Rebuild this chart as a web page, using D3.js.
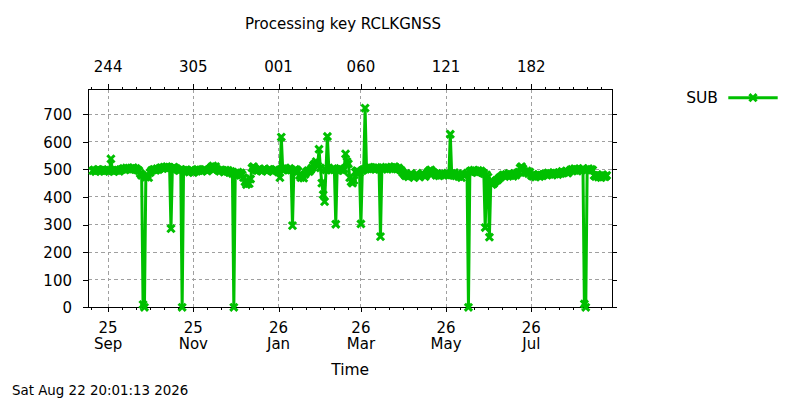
<!DOCTYPE html>
<html><head><meta charset="utf-8">
<script src="https://cdn.jsdelivr.net/npm/d3@7"></script>
<style>
body{margin:0;background:#fff}
svg{display:block}
text{font-family:"DejaVu Sans",sans-serif;fill:#000}
</style>
</head><body>
<svg id="chart" width="800" height="400"></svg>
<script>
// ---------- data ----------
const chartTitle = "Processing key RCLKGNSS";
const seriesName = "SUB";
const xAxisLabel = "Time";
const timestampText = "Sat Aug 22 20:01:13 2026";
const firstDay = "2025-08-21";            // first daily sample
const subValues = [
  495,498,492,497,500,494,496,499,493,497,495,          // Aug 21-31
  498,494,538,496,492,499,495,497,493,498,              // Sep 1-10
  500,503,498,505,501,504,499,502,506,500,503,498,495,  // Sep 11-23
  485,478,10,0,472,480,470,488,
  495,498,500,496,502,499,504,
  506,503,508,505,510,504,507,285,503,508,505,502,
  498,495,500,0,497,493,499,495,490,496,
  492,488,494,497,500,495,498,493,496,500,497,494,499,502,
  508,512,506,510,
  500,496,493,498,495,490,497,493,496,488,492,485,
  0,
  478,485,490,482,487,480,
  470,455,445,450,448,465,
  505,510,503,498,495,500,496,493,499,502,497,494,500,498,495,492,497,500,496,
  490,470,
  617,
  502,498,505,500,497,503,
  497,296,
  495,500,498,493,
  478,470,475,468,482,
  490,495,492,498,505,
  515,520,528,512,
  573,
  505,
  450,408,383,
  498,
  619,
  505,500,497,502,
  498,301,
  500,496,503,499,495,501,
  556,
  528,520,
  470,455,450,460,
  490,495,492,488,
  302,
  495,500,
  722,
  505,502,508,500,504,506,501,507,503,500,
  256,
  502,506,503,508,500,505,502,507,504,510,506,501,505,499,495,488,
  482,476,480,473,478,485,475,470,479,483,477,472,480,486,478,474,481,490,495,498,492,488,484,478,482,476,480,485,479,483,
  480,486,478,
  627,
  485,480,488,476,482,474,479,470,484,478,481,486,
  0,
  492,495,490,497,493,488,496,491,494,489,485,
  289,
  480,472,
  254,
  452,445,448,455,460,462,468,472,
  476,480,474,482,478,485,477,481,475,483,479,486,490,
  505,510,502,
  492,488,494,485,490,
  478,475,480,472,477,482,474,479,476,481,
  484,480,487,482,485,479,488,483,486,481,
  488,485,492,487,490,494,486,491,
  497,500,495,502,498,494,501,496,499,503,
  12,0,
  498,502,495,500,497,
  478,474,480,472,477,470,481,475,473,478
];
const xDomain = ["2025-08-17T14:00:00Z", "2026-08-28T00:00:00Z"];
const yDomain = [0, 790];
const yTickValues = [0,100,200,300,400,500,600,700];
const majorTickDates = ["2025-09-01","2025-11-01","2026-01-01","2026-03-01","2026-05-01","2026-07-01"];
const minorBaseDates = ["2025-07-01","2025-09-01","2025-11-01","2026-01-01","2026-03-01","2026-05-01","2026-07-01"];
const minorOffsetsDays = [10,20,30,40,50];
const topTickLabels = ["244","305","001","060","121","182"];
const bottomYearLabels = ["25","25","26","26","26","26"];
const bottomMonthLabels = ["Sep","Nov","Jan","Mar","May","Jul"];

// ---------- drawing ----------
const svg = d3.select("#chart");
const plot = {left: 88, right: 612.3, top: 89.3, bottom: 307.3};
const green = "#00c000";
const gridColor = "#a0a0a0";
const lw = 3;

const parseDay = d3.utcParse("%Y-%m-%d");
const t0 = parseDay(firstDay);
const data = subValues.map((v, i) => ({date: d3.utcDay.offset(t0, i), value: v}));

const x = d3.scaleUtc().domain(xDomain.map(s => new Date(s))).range([plot.left, plot.right]);
const y = d3.scaleLinear().domain(yDomain).range([plot.bottom, plot.top]);

const majors = majorTickDates.map(parseDay);
const xd = x.domain();
const minors = [];
minorBaseDates.map(parseDay).forEach(b => minorOffsetsDays.forEach(o => {
  const d = d3.utcDay.offset(b, o);
  if (d >= xd[0] && d <= xd[1]) minors.push(d);
}));

// grid
const grid = svg.append("g").attr("stroke", gridColor).attr("stroke-width", 1)
  .attr("stroke-dasharray", "3.5,3").attr("shape-rendering", "crispEdges");
yTickValues.filter(v => v > 0).forEach(v => {
  grid.append("line").attr("x1", plot.left).attr("x2", plot.right).attr("y1", y(v)).attr("y2", y(v));
});
majors.forEach(d => {
  grid.append("line").attr("x1", x(d)).attr("x2", x(d)).attr("y1", plot.top).attr("y2", plot.bottom);
});

// axes (ticks only)
function styleAxis(g) {
  g.select(".domain").remove();
  g.selectAll(".tick line").attr("stroke", "#000").attr("shape-rendering", "crispEdges");
  g.selectAll(".tick text").attr("font-size", 15).attr("font-family", "DejaVu Sans");
}
svg.append("g").attr("transform", `translate(${plot.left},0)`)
  .call(d3.axisLeft(y).tickValues(yTickValues).tickSize(5).tickPadding(11))
  .call(styleAxis)
  .selectAll(".tick text").attr("dy", "0.36em");
svg.append("g").attr("transform", `translate(${plot.right},0)`)
  .call(d3.axisRight(y).tickValues(yTickValues).tickSize(5).tickFormat(""))
  .call(styleAxis);
svg.append("g").attr("transform", `translate(0,${plot.bottom})`)
  .call(d3.axisBottom(x).tickValues(majors).tickSize(5).tickFormat(""))
  .call(styleAxis);
svg.append("g").attr("transform", `translate(0,${plot.bottom})`)
  .call(d3.axisBottom(x).tickValues(minors).tickSize(2.5).tickFormat(""))
  .call(styleAxis);
svg.append("g").attr("transform", `translate(0,${plot.top})`)
  .call(d3.axisTop(x).tickValues(majors).tickSize(5).tickFormat(""))
  .call(styleAxis);
svg.append("g").attr("transform", `translate(0,${plot.top})`)
  .call(d3.axisTop(x).tickValues(minors).tickSize(2.5).tickFormat(""))
  .call(styleAxis);

// tick labels
const lab = svg.append("g").attr("font-size", 15).attr("text-anchor", "middle");
majors.forEach((d, i) => {
  lab.append("text").attr("x", x(d)).attr("y", 71.7).text(topTickLabels[i]);
  lab.append("text").attr("x", x(d)).attr("y", 332.7).text(bottomYearLabels[i]);
  lab.append("text").attr("x", x(d)).attr("y", 349).text(bottomMonthLabels[i]);
});

// frame
svg.append("rect").attr("x", plot.left).attr("y", plot.top)
  .attr("width", plot.right - plot.left).attr("height", plot.bottom - plot.top)
  .attr("fill", "none").attr("stroke", "#000").attr("stroke-width", 1)
  .attr("shape-rendering", "crispEdges");

// series
const line = d3.line().x(d => x(d.date)).y(d => y(d.value));
svg.append("path").datum(data).attr("d", line)
  .attr("fill", "none").attr("stroke", green).attr("stroke-width", lw)
  .attr("stroke-linejoin", "miter");
const cross = "M-3.6,-3.6L3.6,3.6M-3.6,3.6L3.6,-3.6";
svg.append("g").selectAll("path").data(data).join("path")
  .attr("transform", d => `translate(${x(d.date)},${y(d.value)})`)
  .attr("d", cross).attr("fill", "none").attr("stroke", green).attr("stroke-width", lw);

// title, labels
svg.append("text").attr("x", 343).attr("y", 29)
  .attr("text-anchor", "middle").attr("font-size", 15).text(chartTitle);
svg.append("text").attr("x", (plot.left + plot.right) / 2).attr("y", 375)
  .attr("text-anchor", "middle").attr("font-size", 15.5).text(xAxisLabel);
svg.append("text").attr("x", 12).attr("y", 395)
  .attr("font-size", 13.4).text(timestampText);

// legend
const lg = svg.append("g");
lg.append("text").attr("x", 718).attr("y", 102.7).attr("text-anchor", "end")
  .attr("font-size", 15.5).text(seriesName);
lg.append("line").attr("x1", 728.3).attr("x2", 777.7).attr("y1", 97.7).attr("y2", 97.7)
  .attr("stroke", green).attr("stroke-width", lw);
lg.append("path").attr("transform", "translate(753,97.7)").attr("d", cross)
  .attr("fill", "none").attr("stroke", green).attr("stroke-width", lw);
</script>
</body></html>
